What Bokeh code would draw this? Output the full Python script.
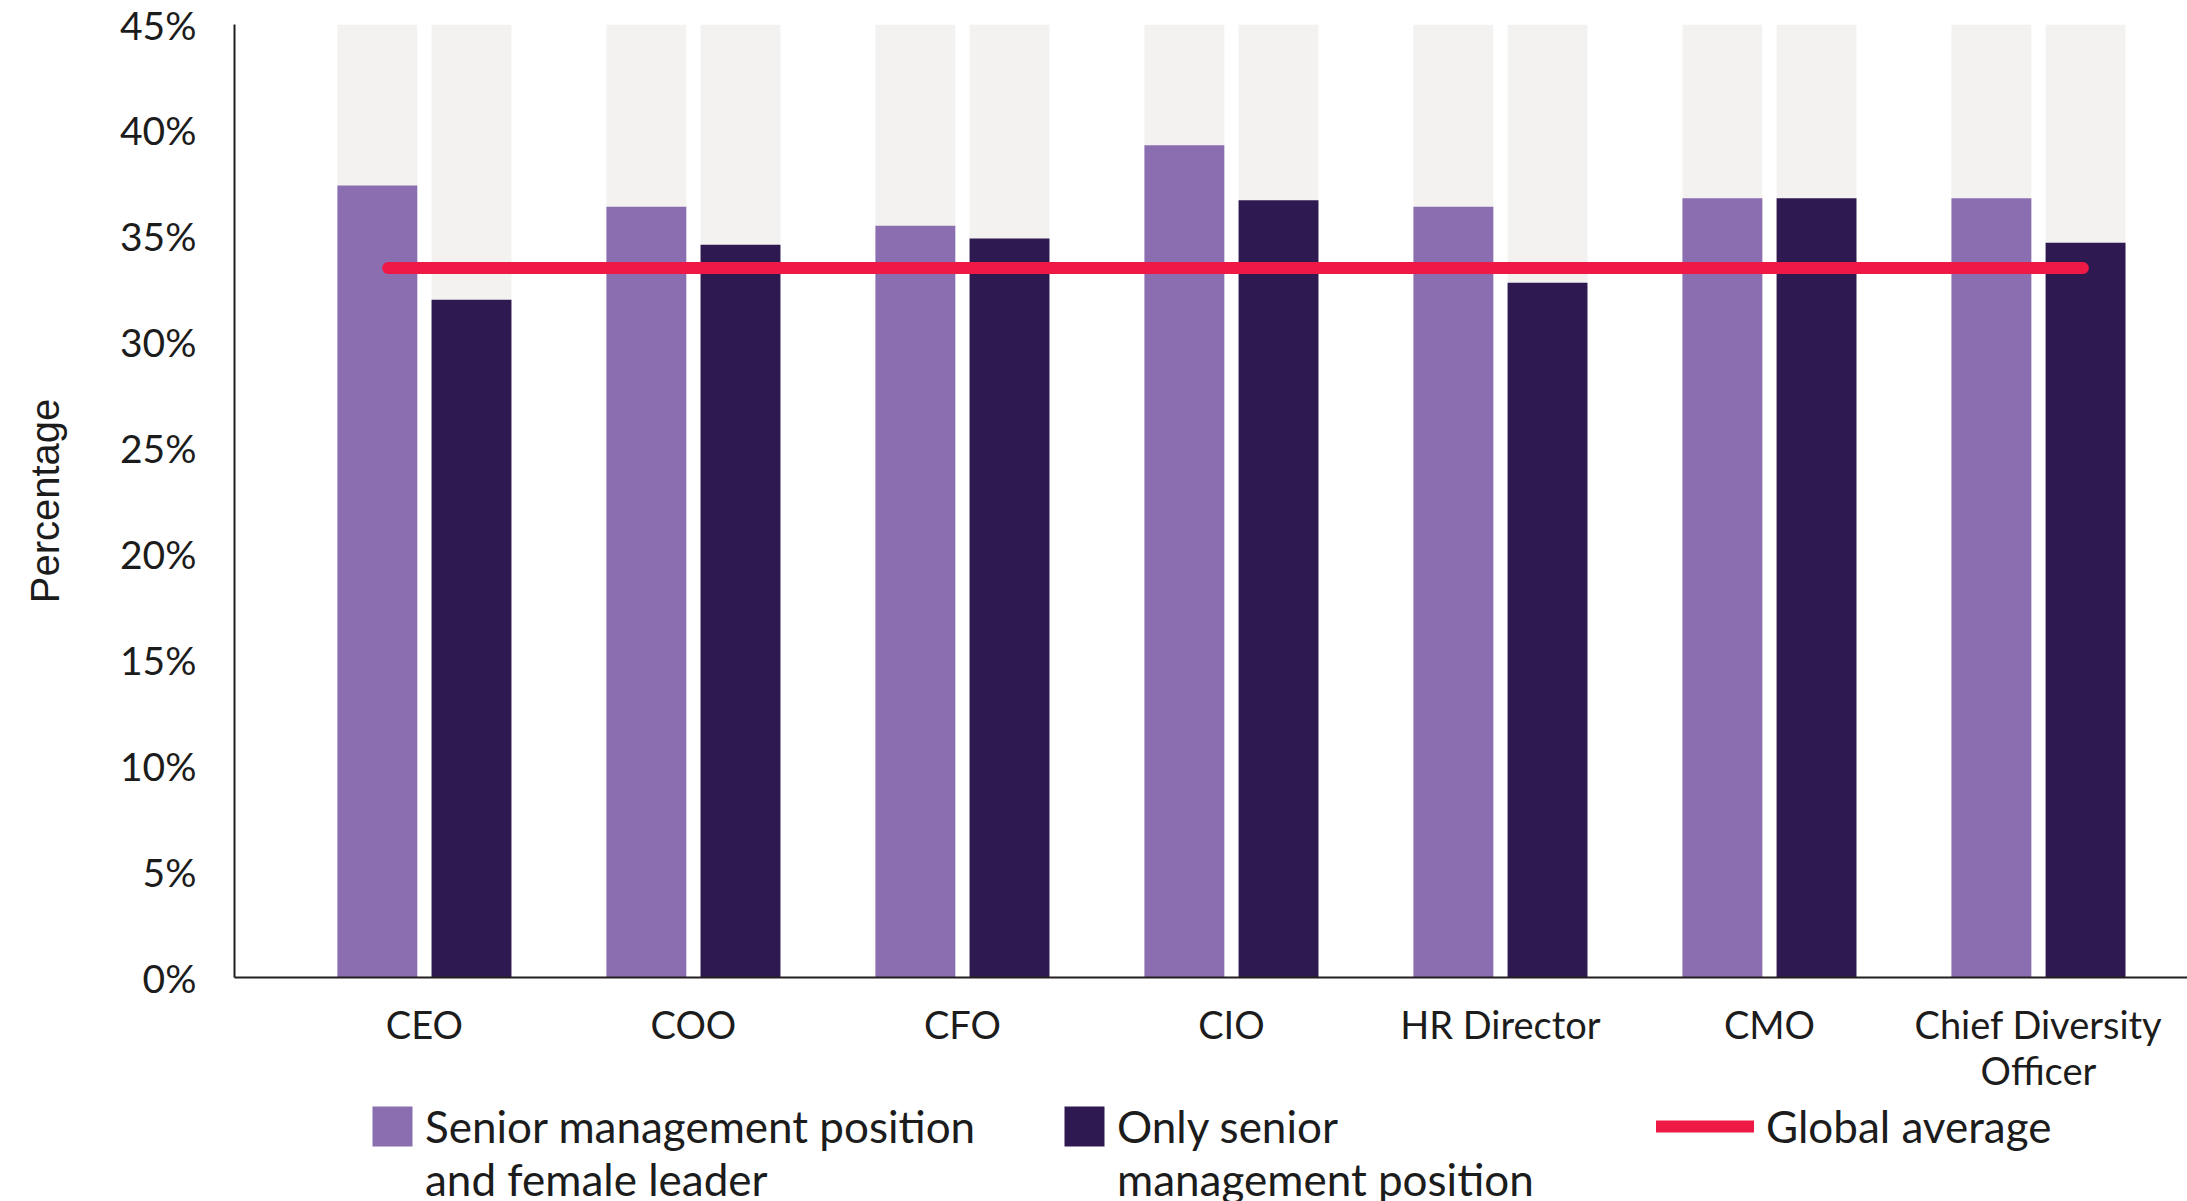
from bokeh.plotting import figure
from bokeh.models import Range1d, FixedTicker, Legend, LegendItem, ColumnDataSource
from bokeh.layouts import column
from bokeh.embed import file_html
from bokeh.resources import INLINE

# ---- data ----
roles = ["CEO", "COO", "CFO", "CIO", "HR Director", "CMO", "Chief Diversity\nOfficer"]
senior_and_female = [37.4, 36.4, 35.5, 39.3, 36.4, 36.8, 36.8]
only_senior = [32.0, 34.6, 34.9, 36.7, 32.8, 36.8, 34.7]
global_average = 33.5
y_ticks = [0, 5, 10, 15, 20, 25, 30, 35, 40, 45]
y_tick_labels = ["0%", "5%", "10%", "15%", "20%", "25%", "30%", "35%", "40%", "45%"]
axis_max = 45
legend_lines = [["Senior management position", "and female leader"],
                ["Only senior", "management position"],
                ["Global average"]]

PURPLE = "#8a6eb0"
DARK = "#2e1a50"
RED = "#ee1a45"
BG = "#f3f2f1"
TXT = "#1c1c1c"
FONT = "Lato"

xs = list(range(len(roles)))
offset = 0.175
bar_w = 0.297
src = ColumnDataSource(dict(
    x1=[x - offset for x in xs],
    x2=[x + offset for x in xs],
    a=senior_and_female,
    b=only_senior,
    full=[axis_max] * len(xs),
))
avg_src = ColumnDataSource(dict(x=[xs[0] - 0.135, xs[-1] + 0.165],
                                y=[global_average, global_average]))

x_range = Range1d(-0.706, 6.554)
p = figure(width=2187, height=1095,
           x_range=x_range, y_range=Range1d(0, axis_max),
           output_backend="svg", toolbar_location=None,
           min_border_left=234, min_border_right=0, min_border_top=24,
           min_border_bottom=116)
p.outline_line_color = None
p.grid.visible = False


def draw_series(fig):
    r1 = fig.vbar(x="x1", top="a", width=bar_w, source=src, color=PURPLE, line_color=None)
    r2 = fig.vbar(x="x2", top="b", width=bar_w, source=src, color=DARK, line_color=None)
    r3 = fig.line(x="x", y="y", source=avg_src, line_color=RED, line_width=12, line_cap="round")
    return r1, r2, r3


# background (full height) bars
p.vbar(x="x1", top="full", width=bar_w, source=src, color=BG, line_color=None)
p.vbar(x="x2", top="full", width=bar_w, source=src, color=BG, line_color=None)
draw_series(p)

# axes
p.xaxis.ticker = FixedTicker(ticks=xs)
p.xaxis.major_label_overrides = {i: r for i, r in enumerate(roles)}
p.xaxis.major_tick_line_color = None
p.xaxis.minor_tick_line_color = None
p.xaxis.major_label_standoff = 17
p.xaxis.major_label_text_font = FONT
p.xaxis.major_label_text_font_size = "38px"
p.xaxis.major_label_text_line_height = 1.0
p.xaxis.major_label_text_color = TXT
p.xaxis.axis_line_color = "#231f20"
p.xaxis.axis_line_width = 2

p.yaxis.ticker = FixedTicker(ticks=y_ticks)
p.yaxis.major_label_overrides = {t: l for t, l in zip(y_ticks, y_tick_labels)}
p.yaxis.major_tick_line_color = None
p.yaxis.minor_tick_line_color = None
p.yaxis.major_label_standoff = 32
p.yaxis.major_label_text_font = FONT
p.yaxis.major_label_text_font_size = "39px"
p.yaxis.major_label_text_color = TXT
p.yaxis.axis_line_color = "#231f20"
p.yaxis.axis_line_width = 2
p.yaxis.axis_label = "Percentage"
p.yaxis.axis_label_text_font = "Liberation Sans"
p.yaxis.axis_label_text_font_size = "40px"
p.yaxis.axis_label_text_font_style = "normal"
p.yaxis.axis_label_text_color = TXT
p.yaxis.axis_label_standoff = 50

# ---- legend strip (separate canvas so that nothing is clipped) ----
# same series, drawn far out of view; only their legend glyphs show
lf = figure(width=2187, height=106, x_range=x_range, y_range=Range1d(1000, 1001),
            output_backend="svg", toolbar_location=None,
            min_border_left=234, min_border_right=0,
            min_border_top=0, min_border_bottom=0)
lf.axis.visible = False
lf.grid.visible = False
lf.outline_line_color = None
d1, d2, d3 = draw_series(lf)


def make_legend(label, renderers, loc, gw, gh, standoff):
    lg = Legend(items=[LegendItem(label=label, renderers=renderers)], location=loc,
                orientation="horizontal",
                glyph_width=gw, glyph_height=gh, label_standoff=standoff,
                padding=0, margin=0, spacing=0,
                border_line_color=None, background_fill_alpha=0,
                label_text_font=FONT, label_text_font_size="44px",
                label_text_color=TXT)
    lf.add_layout(lg, "center")


entries = [(legend_lines[0], d1, 133, 50, 8),
           (legend_lines[1], d2, 825, 50, 8),
           (legend_lines[2], d3, 1422, 98, 12)]
first_y = 49
line_step = 53
for lines, rend, x0, gw, so in entries:
    for k, txt in enumerate(lines):
        make_legend(txt, [rend] if k == 0 else [], (x0, first_y - k * line_step), gw, 50, so)

open("out.html", "w").write(file_html(column(p, lf, spacing=0), INLINE))
